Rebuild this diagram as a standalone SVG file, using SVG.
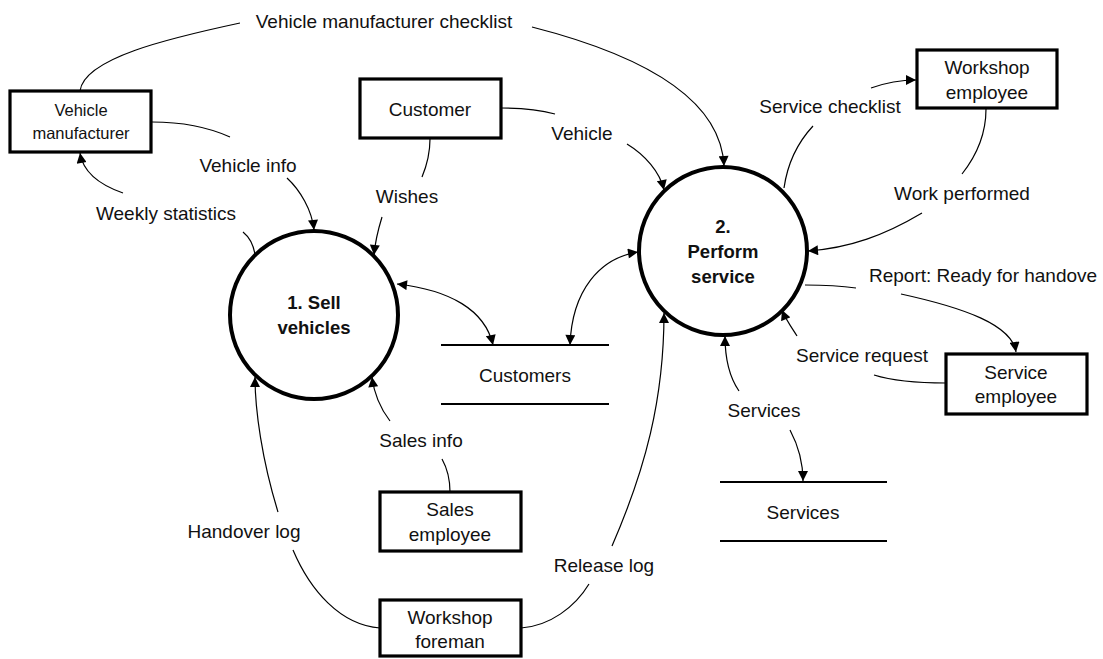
<svg xmlns="http://www.w3.org/2000/svg" width="1103" height="659" viewBox="0 0 1103 659">
<style>
text{font-family:"Liberation Sans",Arial,sans-serif;font-size:19px;fill:#111;}
.c{text-anchor:middle;}
.b{font-weight:bold;font-size:18.5px;}
.sm{font-size:16.5px;}
.box{fill:#fff;stroke:#000;stroke-width:3.2;}
.proc{fill:#fff;stroke:#000;stroke-width:4;}
.store{stroke:#000;stroke-width:1.8;fill:none;}
.flow{fill:none;stroke:#000;stroke-width:1.2;}
.arr{marker-end:url(#ah);}
.both{marker-end:url(#ah);marker-start:url(#ah);}
</style>
<defs>
<marker id="ah" viewBox="0 0 10 10" refX="10" refY="5" markerWidth="11" markerHeight="10" markerUnits="userSpaceOnUse" orient="auto-start-reverse">
<path d="M0,0 L10,5 L0,10 Z" fill="#000"/>
</marker>
</defs>
<rect width="1103" height="659" fill="#fff"/>

<g id="connectors">
<!-- Vehicle manufacturer checklist -->
<path class="flow" d="M80,91 C84,58 170,38 240,23"/>
<path class="flow arr" d="M532,27 Q720,75 724,166"/>
<!-- Vehicle info -->
<path class="flow" d="M152,122 C185,122 210,128 230,137"/>
<path class="flow arr" d="M287,178 C300,190 312,210 314,230"/>
<!-- Weekly statistics -->
<path class="flow" d="M255,254 C253,243 248,236 243,232"/>
<path class="flow arr" d="M123,193 C100,185 83,172 80,153"/>
<!-- Vehicle -->
<path class="flow" d="M501,108 C520,108 540,110 555,114"/>
<path class="flow arr" d="M627,144 C645,155 660,172 664,190"/>
<!-- Wishes -->
<path class="flow" d="M430,139 C430,155 427,165 422,177"/>
<path class="flow arr" d="M382,217 C378,230 375,243 374,255"/>
<!-- Customers store <-> processes -->
<path class="flow both" d="M397,284 C450,290 485,310 493,345"/>
<path class="flow both" d="M570,345 C572,290 600,258 638,252"/>
<!-- Sales info -->
<path class="flow" d="M450,492 C450,478 447,468 442,459"/>
<path class="flow arr" d="M390,421 C380,408 374,393 372,377"/>
<!-- Handover log -->
<path class="flow" d="M380,628 C340,625 310,590 293,550"/>
<path class="flow arr" d="M278,512 C262,460 255,410 255,377"/>
<!-- Release log -->
<path class="flow" d="M521,628 C550,626 575,607 589,584"/>
<path class="flow arr" d="M612,546 C645,470 664,400 664,313"/>
<!-- Services -->
<path class="flow arr" d="M739,391 C730,378 725,360 725,336"/>
<path class="flow arr" d="M790,430 C798,445 803,462 803,481"/>
<!-- Service request -->
<path class="flow" d="M946,383 C910,383 890,380 874,375"/>
<path class="flow arr" d="M797,336 C792,328 786,320 782,310"/>
<!-- Report: Ready for handover -->
<path class="flow" d="M805,285 C825,285 842,286 856,288"/>
<path class="flow arr" d="M901,294 C965,308 1012,325 1016,352"/>
<!-- Service checklist -->
<path class="flow" d="M784,188 C788,160 800,140 813,126"/>
<path class="flow arr" d="M871,88 C885,83 900,80 916,80"/>
<!-- Work performed -->
<path class="flow" d="M986,109 C986,135 977,155 962,174"/>
<path class="flow arr" d="M922,213 C885,235 850,248 808,251"/>

<g id="flow-labels">
<text class="c" x="384" y="28">Vehicle manufacturer checklist</text>
<text class="c" x="248" y="172">Vehicle info</text>
<text class="c" x="166" y="220">Weekly statistics</text>
<text class="c" x="582" y="140">Vehicle</text>
<text class="c" x="407" y="203">Wishes</text>
<text class="c" x="421" y="447">Sales info</text>
<text class="c" x="244" y="538">Handover log</text>
<text class="c" x="604" y="572">Release log</text>
<text class="c" x="764" y="417">Services</text>
<text class="c" x="862" y="362">Service request</text>
<text x="869" y="282">Report: Ready for handove</text>
<text class="c" x="830" y="113">Service checklist</text>
<text class="c" x="962" y="200">Work performed</text>
</g>
</g>

<g id="proc1">
<circle class="proc" cx="314" cy="315" r="84"/>
<text class="c b" x="314" y="309">1. Sell</text>
<text class="c b" x="314" y="334">vehicles</text>
</g>
<g id="proc2">
<circle class="proc" cx="723" cy="251" r="84"/>
<text class="c b" x="723" y="233">2.</text>
<text class="c b" x="723" y="258">Perform</text>
<text class="c b" x="723" y="283">service</text>
</g>

<g id="vehicle-manufacturer">
<rect class="box" x="10" y="91" width="141" height="61"/>
<text class="c sm" x="81" y="116">Vehicle</text>
<text class="c sm" x="81" y="139">manufacturer</text>
</g>
<g id="customer">
<rect class="box" x="360" y="79" width="141" height="59"/>
<text class="c" x="430" y="116">Customer</text>
</g>
<g id="workshop-employee">
<rect class="box" x="917" y="50" width="140" height="58"/>
<text class="c" x="987" y="74">Workshop</text>
<text class="c" x="987" y="99">employee</text>
</g>
<g id="service-employee">
<rect class="box" x="946" y="354" width="141" height="60"/>
<text class="c" x="1016" y="379">Service</text>
<text class="c" x="1016" y="403">employee</text>
</g>
<g id="sales-employee">
<rect class="box" x="380" y="492" width="141" height="59"/>
<text class="c" x="450" y="516">Sales</text>
<text class="c" x="450" y="541">employee</text>
</g>
<g id="workshop-foreman">
<rect class="box" x="380" y="600" width="141" height="56"/>
<text class="c" x="450" y="624">Workshop</text>
<text class="c" x="450" y="648">foreman</text>
</g>
<g id="store-customers">
<line class="store" x1="441" y1="345" x2="609" y2="345"/>
<line class="store" x1="441" y1="404" x2="609" y2="404"/>
<text class="c" x="525" y="382">Customers</text>
</g>
<g id="store-services">
<line class="store" x1="720" y1="482" x2="887" y2="482"/>
<line class="store" x1="720" y1="541" x2="887" y2="541"/>
<text class="c" x="803" y="519">Services</text>
</g>
</svg>
